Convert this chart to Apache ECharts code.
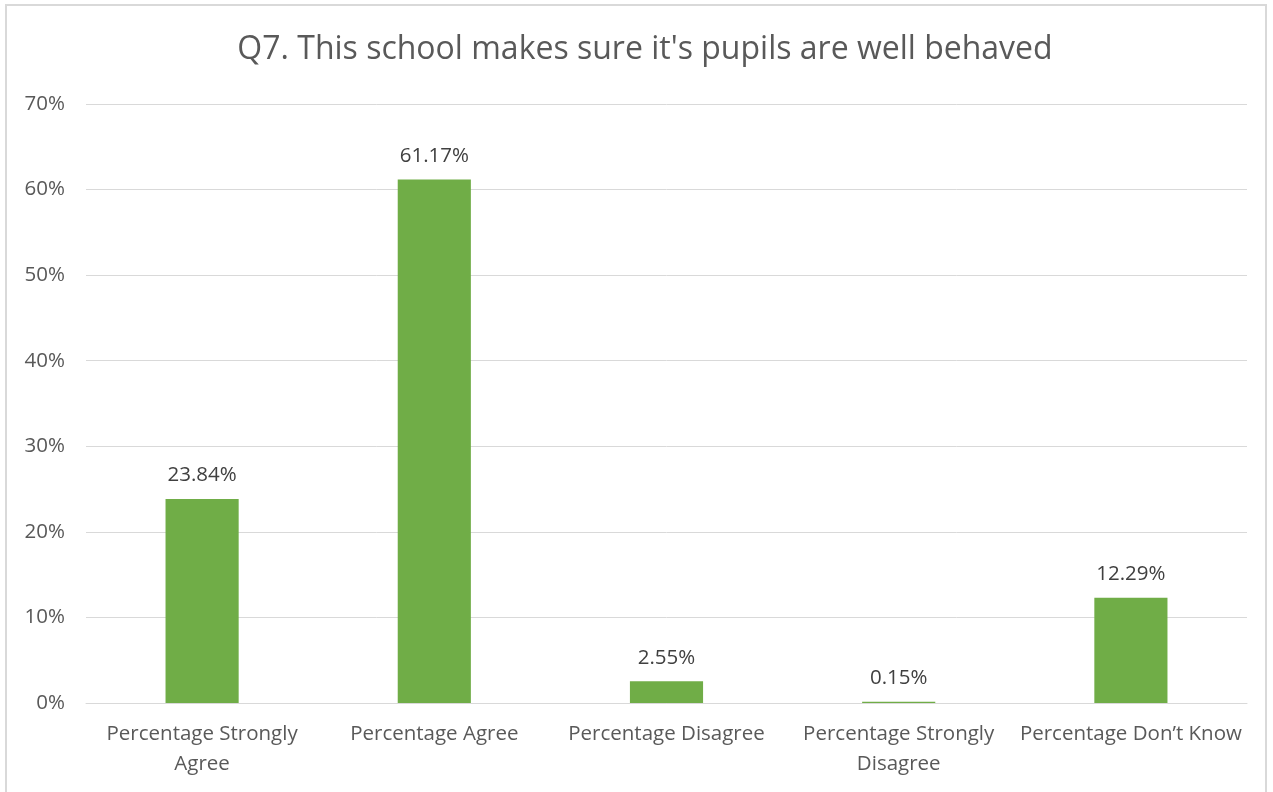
<!DOCTYPE html>
<html><head><meta charset="utf-8">
<script src="https://cdn.jsdelivr.net/npm/echarts@6/dist/echarts.min.js"></script>
<style>
html,body{margin:0;padding:0;background:#fff;}
#frame{position:absolute;left:5px;top:4px;width:1262px;height:800px;border:2px solid #d9d9d9;box-sizing:border-box;}
#chart{position:absolute;left:0;top:0;width:1273px;height:792px;}
</style></head>
<body><div id="frame"></div><div id="chart"></div>
<script>
const titleText = "Q7. This school makes sure it's pupils are well behaved";
const categories = ["Percentage Strongly\nAgree", "Percentage Agree", "Percentage Disagree", "Percentage Strongly\nDisagree", "Percentage Don\u2019t Know"];
const values = [23.84, 61.17, 2.55, 0.15, 12.29];
const yTicks = [0, 10, 20, 30, 40, 50, 60, 70];

const font = "'Open Sans', 'Noto Sans', sans-serif";
const chart = echarts.init(document.getElementById('chart'), null, {renderer:'canvas'});
chart.setOption({
  animation:false,
  title:{text:titleText,left:640,top:29,textAlign:'center',
    textStyle:{fontFamily:font,fontSize:32,fontWeight:'normal',color:'#595959'}},
  grid:{left:86,right:26,top:104,bottom:89,containLabel:false},
  xAxis:{type:'category',data:categories,
    axisLine:{show:true,lineStyle:{color:'#d9d9d9',width:1}},
    axisTick:{show:false},
    axisLabel:{fontFamily:font,fontSize:20.5,color:'#595959',lineHeight:30,margin:16,interval:0}},
  yAxis:{type:'value',min:yTicks[0],max:yTicks[yTicks.length-1],interval:10,
    axisLine:{show:false},axisTick:{show:false},
    splitLine:{lineStyle:{color:'#d9d9d9',width:1}},
    axisLabel:{fontFamily:font,fontSize:20.5,color:'#595959',margin:21,formatter:v=>v+'%'}},
  series:[{type:'bar',data:values,barWidth:'31.5%',
    itemStyle:{color:'#70ad47'},
    label:{show:true,position:'top',distance:13,fontFamily:font,fontSize:20.5,color:'#404040',
      formatter:p=>p.value.toFixed(2)+'%'}}]
});
</script></body></html>
